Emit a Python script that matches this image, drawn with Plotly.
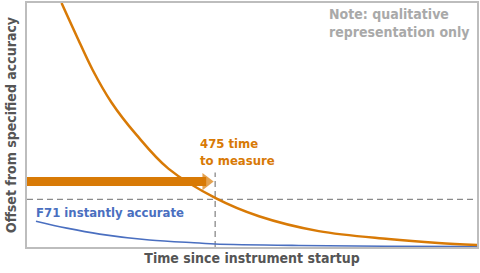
import plotly.graph_objects as go

# Data (qualitative curves), x: time, y: offset
orange_x = [34.7, 49.7, 65.7, 84.7, 110, 142, 190, 233, 293, 363, 413, 452]
orange_y = [246, 213, 179, 146, 113, 79, 49, 31, 16, 8, 4, 2]
blue_x = [9, 40, 73, 123, 173, 189, 273, 360, 452]
blue_y = [26, 19, 13, 7, 4, 3, 1.5, 0.8, 0.5]

threshold_y = 48
measure_x = 189
arrow_y = 66
arrow_end_x = 180

ORANGE = "#D87A06"
BLUE = "#4A6FC0"
FONT = "DejaVu Sans Condensed, Liberation Sans Narrow, Roboto, sans-serif"

fig = go.Figure()

# dashed reference lines
fig.add_trace(go.Scatter(x=[0, 452], y=[threshold_y, threshold_y], mode="lines",
                         line=dict(color="#8a8a8a", width=1.3, dash="6px,4px"),
                         hoverinfo="skip", showlegend=False))
fig.add_trace(go.Scatter(x=[measure_x, measure_x], y=[0, 75], mode="lines",
                         line=dict(color="#8a8a8a", width=1.3, dash="6px,4px"),
                         hoverinfo="skip", showlegend=False))

fig.add_trace(go.Scatter(x=blue_x, y=blue_y, mode="lines",
                         line=dict(color=BLUE, width=1.6, shape="spline"),
                         showlegend=False))
fig.add_trace(go.Scatter(x=orange_x, y=orange_y, mode="lines",
                         line=dict(color=ORANGE, width=2.5, shape="spline"),
                         showlegend=False))

# arrow
fig.add_trace(go.Scatter(x=[0, arrow_end_x], y=[arrow_y, arrow_y], mode="lines+markers",
                         line=dict(color=ORANGE, width=9),
                         marker=dict(symbol="triangle-right", size=[0, 15], color=ORANGE,
                                     line=dict(width=0)),
                         showlegend=False))

fig.add_annotation(x=172, y=114, xref="x", yref="y", text="<b>475 time<br>to measure</b>",
                   showarrow=False, xanchor="left", yanchor="top", align="left",
                   font=dict(family=FONT, size=13, color=ORANGE))
fig.add_annotation(x=7, y=35, xref="x", yref="y", text="<b>F71 instantly accurate</b>",
                   showarrow=False, xanchor="left", yanchor="middle", align="left",
                   font=dict(family=FONT, size=13, color=BLUE))
fig.add_annotation(x=301, y=245, xref="x", yref="y", text="<b>Note: qualitative<br>representation only</b>",
                   showarrow=False, xanchor="left", yanchor="top", align="left",
                   font=dict(family=FONT, size=14, color="#a9a9a9"))

fig.update_layout(
    width=480, height=273,
    margin=dict(l=27, r=1, t=1, b=26),
    paper_bgcolor="white", plot_bgcolor="white",
    font=dict(family=FONT, color="#555555"),
    xaxis=dict(range=[0, 452], showgrid=False, zeroline=False, showticklabels=False, ticks="",
               showline=True, linecolor="#bdbdbd", linewidth=1.5, mirror=True,
               title=dict(text="<b>Time since instrument startup</b>", standoff=5,
                          font=dict(family=FONT, size=14, color="#555555"))),
    yaxis=dict(range=[0, 246], showgrid=False, zeroline=False, showticklabels=False, ticks="",
               showline=True, linecolor="#bdbdbd", linewidth=1.5, mirror=True,
               title=dict(text="<b>Offset from specified accuracy</b>", standoff=5,
                          font=dict(family=FONT, size=14, color="#555555"))),
)

fig.write_html("out.html")
